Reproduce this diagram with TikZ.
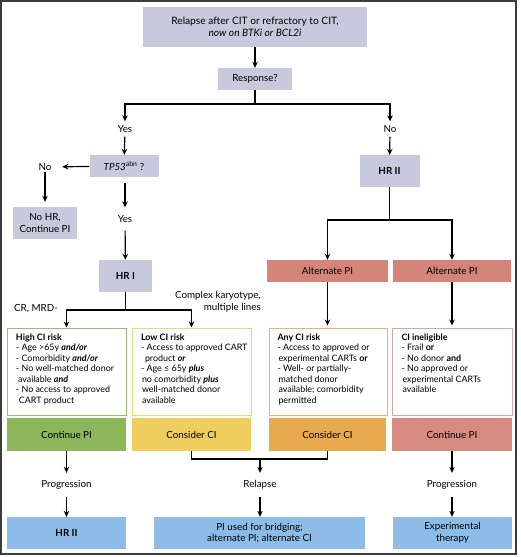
\documentclass[tikz,border=0pt]{standalone}
\usepackage{fontspec}
\setmainfont{Lato}
\usetikzlibrary{arrows.meta}
\definecolor{lav}{RGB}{201,201,221}
\definecolor{salm}{RGB}{212,132,120}
\definecolor{pinkc}{RGB}{214,138,128}
\definecolor{grn}{RGB}{141,182,91}
\definecolor{ylw}{RGB}{240,205,95}
\definecolor{orng}{RGB}{232,170,78}
\definecolor{blu}{RGB}{142,188,232}
\definecolor{grnB}{RGB}{150,190,110}
\definecolor{ylwB}{RGB}{236,212,125}
\definecolor{orngB}{RGB}{228,182,102}
\definecolor{pinkB}{RGB}{215,168,162}
\definecolor{frm}{RGB}{60,60,60}
\newcommand{\crittext}[1]{\hspace*{4.5pt}\parbox[c][76pt][t]{110pt}{\fontsize{8.9}{10.5}\selectfont\raggedright #1}\hspace*{-4.5pt}}
\newcommand{\bi}[1]{\textbf{\textit{#1}}}
\tikzset{
  box/.style={draw=none, align=center, inner sep=1pt},
  lavbox/.style={box, fill=lav},
  crit/.style={draw, line width=1pt, fill=white, minimum width=119pt, minimum height=87pt, inner sep=0pt},
  colbox/.style={box, minimum width=119pt, minimum height=33pt},
  bluebox/.style={box, fill=blu, minimum height=32pt},
  lbl/.style={inner sep=0pt, align=center},
  arr/.style={line width=1.2pt, -{Stealth[length=6pt,width=5.5pt]}},
  ln/.style={line width=1.2pt},
}
\begin{document}
\begin{tikzpicture}[x=1pt,y=-1pt, font=\fontsize{9.8}{11.8}\selectfont]
\useasboundingbox (0,0) rectangle (520,557);
\draw[frm, line width=1.6pt] (1,1) rectangle (516,554);

% top
\node[lavbox, minimum width=224pt, minimum height=40pt, font=\fontsize{10.2}{12.2}\selectfont] (top) at (255,27) {Relapse after CIT or refractory to CIT,\\\textit{now on BTKi or BCL2i}};
\node[lavbox, minimum width=74pt, minimum height=22pt] (resp) at (255,79) {Response?};
\coordinate (j1) at (255,104);
\node[lbl, minimum height=15pt] (yes1) at (125,129) {Yes};
\node[lbl, minimum height=15pt] (no1) at (390,129) {No};
\draw[arr] (top) -- (resp);
\draw[ln] (resp) -- (j1);
\draw[arr] (j1) -| (yes1);
\draw[arr] (j1) -| (no1);

% left branch
\node[lavbox, minimum width=69pt, minimum height=22pt] (tp) at (124,166) {\textit{TP53}\textsuperscript{abn} ?};
\node[lbl, minimum width=34pt, minimum height=10pt] (no2) at (45,167) {No};
\node[lavbox, minimum width=64pt, minimum height=32pt] (nohr) at (45,223) {No HR,\\Continue PI};
\node[lbl, minimum height=23pt] (yes2) at (125,219) {Yes};
\node[lavbox, minimum width=53pt, minimum height=32pt] (hr1) at (125.5,276) {\textbf{HR I}};
\draw[arr] (yes1) -- (tp);
\draw[arr] (tp) -- (no2);
\draw[arr, shorten >=5pt] (no2) -- (nohr);
\draw[arr, shorten <=6pt] (tp.south -| yes2) -- (yes2);
\draw[arr] (yes2) -- (hr1);

\coordinate (j2) at (125.5,310);
\node[lbl] (crm) at (36,309) {CR, MRD-};
\node[lbl, align=right, anchor=north east] (cplx) at (261,291) {Complex karyotype,\\multiple lines};

% criteria boxes
\node[crit, draw=grnB] (high) at (66.5,371.5) {\crittext{\textbf{High CI risk}\\
- Age >65y \bi{and/or}\\
- Comorbidity \bi{and/or}\\
- No well-matched donor\\
\hspace*{2pt}available \bi{and}\\
- No access to approved\\
\hspace*{3pt}CART product}};
\node[crit, draw=ylwB] (low) at (191.5,371.5) {\crittext{\textbf{Low CI risk}\\
\mbox{- Access to approved CART}\\
\hspace*{4pt}product \bi{or}\\
- Age ≤ 65y \bi{plus}\\
\hspace*{1pt}no comorbidity \bi{plus}\\
\hspace*{1pt}well-matched donor\\
\hspace*{1pt}available}};
\node[crit, draw=orngB, minimum width=118pt] (any) at (328,371.5) {\crittext{\textbf{Any CI risk}\\
- Access to approved or\\
\hspace*{1pt}experimental CARTs \textbf{or}\\
- Well- or partially-\\
\hspace*{1pt}matched donor\\
\hspace*{1pt}available; comorbidity\\
\hspace*{1pt}permitted}};
\node[crit, draw=pinkB, minimum width=120pt] (inel) at (452,371.5) {\crittext{\textbf{CI ineligible}\\
- Frail \textbf{or}\\
- No donor \textbf{and}\\
- No approved or\\
\hspace*{1pt}experimental CARTs\\
\hspace*{1pt}available}};

\draw[ln] (hr1) -- (j2);
\draw[arr] (j2) -| (high);
\draw[arr] (j2) -| (low);

% right branch
\node[lavbox, minimum width=60pt, minimum height=32pt] (hr2) at (389.5,171) {\textbf{HR II}};
\coordinate (j3) at (389.5,220);
\node[box, fill=salm, minimum width=121pt, minimum height=22pt] (alt1) at (327.5,271) {Alternate PI};
\node[box, fill=salm, minimum width=118pt, minimum height=22pt] (alt2) at (452,271) {Alternate PI};
\draw[arr] (no1) -- (hr2);
\draw[ln] (hr2) -- (j3);
\draw[arr] (j3) -| (alt1);
\draw[arr] (j3) -| (alt2);
\draw[arr, shorten >=2pt] (alt1) -- (alt1 |- any.north);
\draw[arr, shorten >=2pt] (alt2) -- (alt2 |- inel.north);

% coloured action boxes
\node[colbox, fill=grn] (cpi1) at (66.5,434.5) {Continue PI};
\node[colbox, fill=ylw] (cci1) at (191.5,434.5) {Consider CI};
\node[colbox, fill=orng, minimum width=117pt] (cci2) at (327.5,434.5) {Consider CI};
\node[colbox, fill=pinkc, minimum width=120pt] (cpi2) at (452,434.5) {Continue PI};

% bottom
\node[lbl, minimum height=24pt] (prog1) at (66.5,485) {Progression};
\node[lbl, minimum height=24pt] (rel) at (260,485) {Relapse};
\node[lbl, minimum height=24pt] (prog2) at (452,485) {Progression};
\node[bluebox, minimum width=119pt] (hr2b) at (66.5,533) {\textbf{HR II}};
\node[bluebox, minimum width=211pt] (brid) at (259.5,533) {PI used for bridging;\\alternate PI; alternate CI};
\node[bluebox, minimum width=119pt] (expt) at (452.5,533) {Experimental\\therapy};

\coordinate (j4) at (260,459);
\draw[ln] (cci1.south) -- (cci1.south |- j4) -- (cci2.south |- j4) -- (cci2.south);
\draw[arr] (j4) -- (rel);
\draw[arr] (cpi1) -- (prog1);
\draw[arr] (cpi2.south -| prog2) -- (prog2);
\draw[arr] (prog1) -- (hr2b);
\draw[arr] (rel) -- (rel |- brid.north);
\draw[arr] (prog2) -- (prog2 |- expt.north);
\end{tikzpicture}
\end{document}
